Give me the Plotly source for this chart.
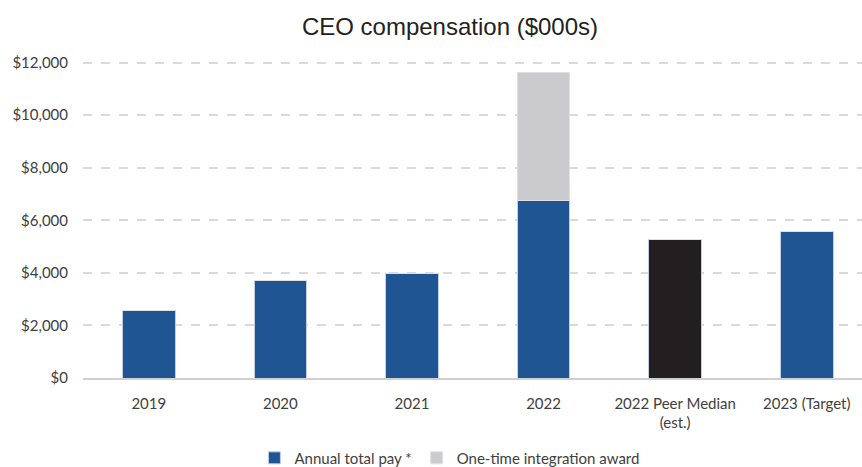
import plotly.graph_objects as go

categories = ["2019", "2020", "2021", "2022", "2022 Peer Median<br>(est.)", "2023 (Target)"]
annual_pay = [2550, 3710, 3960, 6740, 5270, 5560]
integration_award = [0, 0, 0, 4890, 0, 0]
tick_vals = [0, 2000, 4000, 6000, 8000, 10000, 12000]
tick_text = ["$0", "$2,000", "$4,000", "$6,000", "$8,000", "$10,000", "$12,000"]

BLUE = "#1F5592"
GRAY = "#CBCBCD"
BLACK = "#231F20"

bar_colors = [BLUE, BLUE, BLUE, BLUE, BLACK, BLUE]

fig = go.Figure()
fig.add_trace(go.Bar(
    x=categories, y=annual_pay, name="Annual total pay *",
    marker=dict(color=bar_colors, line=dict(color="#BFD0E6", width=1)),
    width=0.4,
))
fig.add_trace(go.Bar(
    x=categories, y=integration_award, name="One-time integration award",
    marker=dict(color=GRAY, line=dict(color="#E0E0E0", width=1)),
    width=0.4,
))

fig.update_layout(
    barmode="stack",
    width=862, height=467,
    margin=dict(l=83, r=0, t=60, b=89, autoexpand=False),
    paper_bgcolor="white", plot_bgcolor="white",
    title=dict(text="CEO compensation ($000s)", x=0.522, xanchor="center",
               y=0.942, yanchor="middle",
               font=dict(family="Liberation Sans, Arial", size=24, color="#222222")),
    font=dict(family="Lato, Calibri, sans-serif", size=15, color="#404040"),
    showlegend=True,
    legend=dict(orientation="h", x=0.471, xanchor="center", y=-0.2, yanchor="top",
                font=dict(size=15, color="#404040"), itemwidth=30,
                traceorder="normal"),
    bargap=0.6,
)
fig.update_xaxes(
    range=[-0.5, 5.42], showgrid=False, showline=True,
    linecolor="#D0D0D0", linewidth=1.5, ticks="", ticklabelstandoff=11,
    tickfont=dict(size=15, color="#404040"),
)
fig.update_yaxes(
    range=[0, 12100], tickvals=tick_vals, ticktext=tick_text,
    showgrid=True, gridcolor="#D9D9D9", griddash="dash", gridwidth=1.5,
    zeroline=False, showline=False, ticks="", ticklabelstandoff=14,
    tickfont=dict(size=15, color="#404040"),
)

fig.write_html("out.html")
